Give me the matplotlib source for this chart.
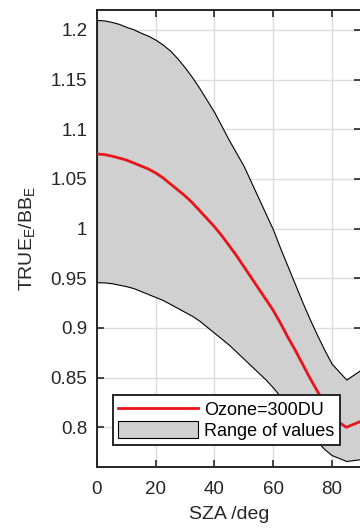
import numpy as np
import matplotlib.pyplot as plt
from matplotlib.ticker import FuncFormatter

plt.rcParams['font.family'] = ['Liberation Sans', 'DejaVu Sans']
plt.rcParams['mathtext.fontset'] = 'custom'
plt.rcParams['mathtext.rm'] = 'Liberation Sans'

# solar zenith angle grid, 2.5 deg steps
sza = np.arange(0, 92.5, 2.5)

# ratio for ozone = 300 DU
ozone_300 = [1.075, 1.0745, 1.073, 1.071, 1.069, 1.066, 1.063, 1.060, 1.056, 1.051,
             1.045, 1.039, 1.033, 1.026, 1.018, 1.010, 1.002, 0.993, 0.983, 0.973,
             0.962, 0.951, 0.940, 0.929, 0.918, 0.905, 0.891, 0.878, 0.864, 0.850,
             0.837, 0.824, 0.812, 0.805, 0.800, 0.803, 0.806]

# envelope over all ozone columns
upper = [1.210, 1.2095, 1.208, 1.206, 1.203, 1.2005, 1.197, 1.194, 1.190, 1.185,
         1.179, 1.171, 1.162, 1.152, 1.141, 1.129, 1.117, 1.103, 1.089, 1.076,
         1.063, 1.047, 1.031, 1.015, 0.999, 0.980, 0.962, 0.944, 0.926, 0.909,
         0.893, 0.878, 0.864, 0.856, 0.848, 0.853, 0.858]
lower = [0.946, 0.9458, 0.945, 0.9435, 0.942, 0.940, 0.937, 0.934, 0.931, 0.928,
         0.924, 0.920, 0.916, 0.912, 0.907, 0.901, 0.895, 0.889, 0.883, 0.876,
         0.869, 0.862, 0.855, 0.848, 0.840, 0.831, 0.822, 0.813, 0.804, 0.795,
         0.786, 0.778, 0.772, 0.769, 0.766, 0.767, 0.768]

xticks = [0, 20, 40, 60, 80]
yticks = [0.8, 0.85, 0.9, 0.95, 1.0, 1.05, 1.1, 1.15, 1.2]

fig = plt.figure(figsize=(3.6, 5.28), dpi=100)
ax = fig.add_axes([97 / 360, 61 / 528, 264 / 360, 457 / 528])

band = ax.fill_between(sza, lower, upper, facecolor='#d0d0d0', edgecolor='k',
                       linewidth=0.8, label='Range of values', zorder=2)
line, = ax.plot(sza, ozone_300, color='#e8141c', linewidth=2,
                label='Ozone=300DU', zorder=3)

ax.set_xlim(0, 90)
ax.set_ylim(0.76, 1.22)
ax.set_xticks(xticks)
ax.set_yticks(yticks)
ax.yaxis.set_major_formatter(FuncFormatter(lambda v, p: '%g' % round(v, 2)))
ax.grid(True, color='#dcdcdc', linewidth=1, zorder=0)
ax.set_axisbelow(True)

ax.tick_params(direction='in', top=True, right=True, length=5, width=1.2,
               labelsize=13.5, colors='#262626')
ax.tick_params(axis='x', pad=10)
ax.tick_params(axis='y', pad=7)
for s in ax.spines.values():
    s.set_linewidth(1.4)
    s.set_color('#262626')

ax.set_xlabel('SZA /deg', fontsize=14, color='#262626', labelpad=6)
ax.set_ylabel('TRUE$_\\mathregular{E}$/BB$_\\mathregular{E}$', fontsize=14,
              color='#262626', labelpad=9)

leg = ax.legend([line, band], ['Ozone=300DU', 'Range of values'],
                loc='lower left', bbox_to_anchor=(0.06, 0.048), borderaxespad=0,
                fontsize=13, fancybox=False, framealpha=1, edgecolor='#262626',
                handlelength=4.4, handleheight=1.0, borderpad=0.3,
                labelspacing=0.15, handletextpad=0.35)
leg.get_frame().set_linewidth(1.4)

fig.savefig('out.png', dpi=100)
